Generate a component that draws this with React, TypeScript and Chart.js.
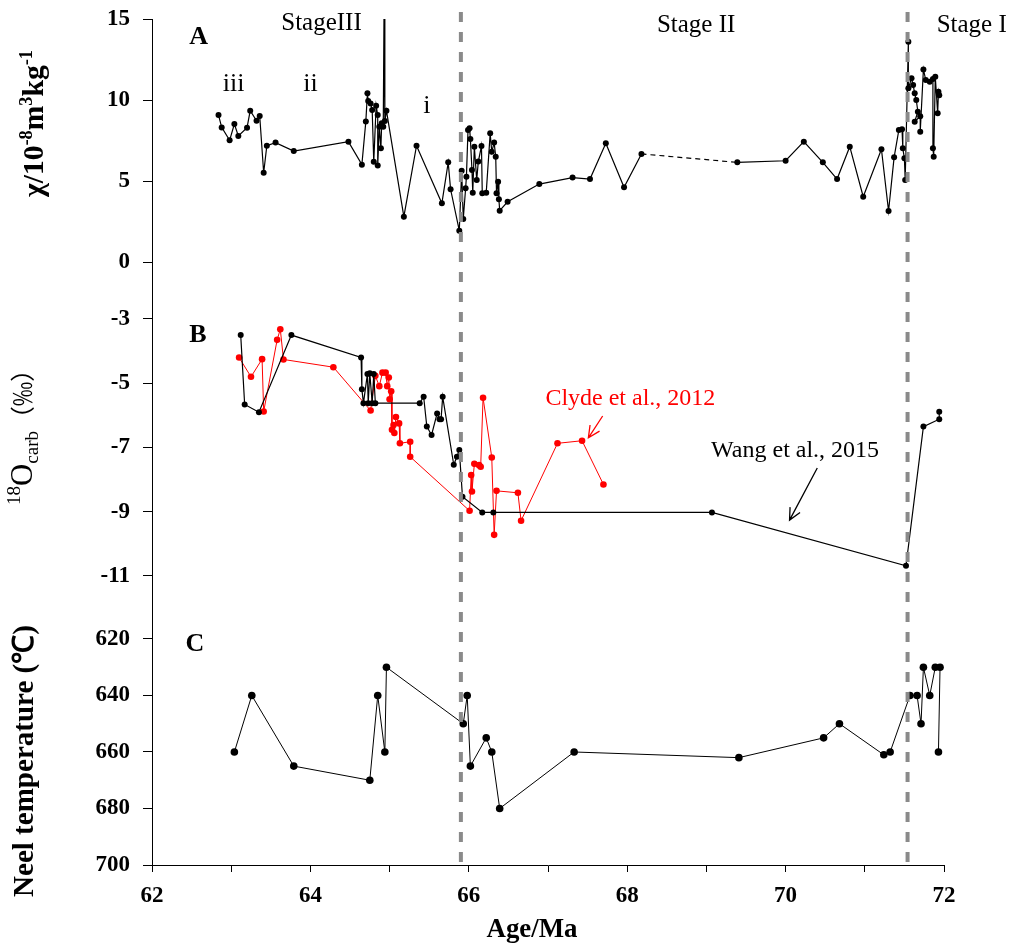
import React, { useEffect, useRef } from 'react';
import { Chart, registerables } from 'chart.js';

Chart.register(...registerables);

// ---------- axis ticks ----------
const xTicks = [62, 63, 64, 65, 66, 67, 68, 69, 70, 71, 72];
const chiTicks = [0, 5, 10, 15];
const d18OTicks = [-3, -5, -7, -9, -11];
const neelTicks = [620, 630, 640, 650, 660, 670, 680, 690, 700];
const stageBoundaries = [65.9, 71.54];

// ---------- Panel A: magnetic susceptibility ----------
const chiAge = [
  62.84, 62.88, 62.98, 63.04, 63.09, 63.2, 63.24, 63.32, 63.36, 63.41, 63.45, 63.56, 63.79,
  64.48, 64.65, 64.7, 64.72, 64.73, 64.76, 64.78, 64.8, 64.83, 64.85, 64.85, 64.87, 64.89,
  64.9, 64.92, 64.93, 64.94, 64.96, 65.18, 65.34, 65.66, 65.74, 65.77, 65.88, 65.91, 65.93,
  65.96, 65.97, 65.99, 66.01, 66.02, 66.04, 66.05, 66.07, 66.1, 66.12, 66.16, 66.17, 66.22,
  66.27, 66.29, 66.32, 66.34, 66.35, 66.37, 66.38, 66.39, 66.49, 66.89, 67.31, 67.53, 67.73,
  67.96, 68.18, 69.39, 70.0, 70.23, 70.47, 70.65, 70.81, 70.98,
  71.21, 71.3, 71.37, 71.43, 71.47, 71.48, 71.5, 71.51, 71.55, 71.55, 71.59, 71.61, 71.63, 71.65,
  71.67, 71.63, 71.7, 71.7, 71.74, 71.77, 71.82, 71.86, 71.86, 71.87, 71.89, 71.92, 71.93, 71.94,
];
const chiValue = [
  9.07, 8.31, 7.51, 8.52, 7.78, 8.29, 9.34, 8.72, 9.01, 5.51, 7.18, 7.37, 6.85,
  7.43, 6.01, 8.68, 10.41, 9.94, 9.79, 9.38, 6.19, 9.65, 9.07, 5.95, 8.35, 7.02,
  8.56, 8.35, 15.8, 8.7, 9.34, 2.8, 7.18, 3.62, 6.15, 4.49, 1.93, 5.64, 2.65,
  4.55, 5.27, 8.15, 8.25, 7.6, 5.68, 4.28, 7.12, 5.06, 6.2, 7.16, 4.24, 4.28,
  7.94, 6.8, 7.37, 6.5, 4.24, 4.96, 3.87, 3.17, 3.72, 4.81, 5.21, 5.12, 7.33,
  4.61, 6.67, 6.15, 6.25, 7.43, 6.15, 5.12, 7.12, 4.03,
  6.96, 3.15, 6.46, 8.15, 8.19, 7.02, 6.4, 5.06, 13.6, 10.72, 11.34, 10.93, 10.41, 10.0,
  9.28, 8.66, 9.0, 8.04, 11.89, 11.23, 11.13, 11.3, 7.02, 6.5, 11.44, 9.18, 10.51, 10.3,
];
// the segment starting at this age is an interpolated (dashed) gap
const chiDashFromAge = 68.18;

// ---------- Panel B: d18O carb ----------
const wangAge = [
  63.12, 63.17, 63.35, 63.76, 64.64, 64.65, 64.67, 64.72, 64.73, 64.75, 64.78, 64.8, 64.82,
  65.38, 65.43, 65.47, 65.53, 65.6, 65.63, 65.65, 65.67, 65.81, 65.85, 65.88, 65.92, 66.17,
  66.31, 69.07, 71.52, 71.74, 71.94, 71.94,
];
const wangValue = [
  -3.5, -5.66, -5.9, -3.5, -4.2, -5.19, -5.62, -4.71, -5.62, -4.69, -5.62, -4.71, -5.62,
  -5.62, -5.42, -6.35, -6.61, -5.94, -6.12, -6.12, -5.42, -7.54, -7.29, -7.08, -8.53, -9.02,
  -9.02, -9.02, -10.68, -6.35, -6.12, -5.89,
];
const clydeAge = [
  63.1, 63.25, 63.39, 63.41, 63.58, 63.62, 63.66, 64.29, 64.76, 64.82, 64.87, 64.91, 64.95,
  64.97, 64.99, 65.0, 65.02, 65.03, 65.05, 65.06, 65.08, 65.12, 65.13, 65.26, 65.26, 66.01,
  66.03, 66.04, 66.07, 66.13, 66.15, 66.18, 66.29, 66.32, 66.35, 66.62, 66.66, 67.12, 67.43, 67.7,
];
const clydeValue = [
  -4.2, -4.8, -4.25, -5.88, -3.65, -3.32, -4.26, -4.5, -5.85, -4.77, -5.09, -4.67, -4.67,
  -5.09, -4.82, -5.5, -5.25, -6.45, -6.3, -6.55, -6.05, -6.25, -6.87, -6.82, -7.29, -8.97,
  -7.86, -8.37, -7.51, -7.55, -7.6, -5.45, -7.31, -9.72, -8.35, -8.41, -9.28, -6.87, -6.79, -8.15,
];

// ---------- Panel C: Neel temperature ----------
const neelAge = [
  63.04, 63.26, 63.79, 64.75, 64.85, 64.94, 64.96, 65.93, 65.98, 66.02, 66.22, 66.29, 66.39,
  67.33, 69.41, 70.48, 70.68, 71.24, 71.32, 71.57, 71.66, 71.71, 71.74, 71.82, 71.89, 71.95, 71.93,
];
const neelValue = [
  660, 640, 665, 670, 640, 660, 630, 650, 640, 665, 655, 660, 680,
  660, 662, 655, 650, 661, 660, 640, 640, 650, 630, 640, 630, 630, 660,
];

const SERIF = "'Liberation Serif', 'Times New Roman', serif";
const CJK = "'Noto Sans CJK SC', sans-serif";

const pts = (xs: number[], ys: number[]) => xs.map((x, i) => ({ x, y: ys[i] }));

type Part = { t: string; s?: number; dy?: number; f?: string };

function drawRich(
  ctx: CanvasRenderingContext2D,
  parts: Part[],
  size: number,
  weight: string,
  cx: number,
  baseY: number,
  rot: number,
  target?: number,
) {
  const fontOf = (p: Part, k: number) =>
    `${weight} ${(p.s ?? 1) * size * k}px ${p.f ?? SERIF}`;
  const widthAt = (k: number) =>
    parts.reduce((sum, p) => {
      ctx.font = fontOf(p, k);
      return sum + ctx.measureText(p.t).width;
    }, 0);
  let k = 1;
  if (target) k = target / widthAt(1);
  const total = widthAt(k);
  ctx.save();
  ctx.translate(cx, baseY);
  ctx.rotate(rot);
  ctx.textAlign = 'left';
  ctx.textBaseline = 'alphabetic';
  let x = -total / 2;
  for (const p of parts) {
    ctx.font = fontOf(p, k);
    ctx.fillText(p.t, x, (p.dy ?? 0) * size * k);
    x += ctx.measureText(p.t).width;
  }
  ctx.restore();
}

function arrow(ctx: CanvasRenderingContext2D, x0: number, y0: number, x1: number, y1: number, color: string) {
  const a = Math.atan2(y1 - y0, x1 - x0);
  const L = 13;
  const spread = 0.45;
  ctx.save();
  ctx.strokeStyle = color;
  ctx.lineWidth = 1.3;
  ctx.beginPath();
  ctx.moveTo(x0, y0);
  ctx.lineTo(x1, y1);
  ctx.moveTo(x1 - L * Math.cos(a - spread), y1 - L * Math.sin(a - spread));
  ctx.lineTo(x1, y1);
  ctx.lineTo(x1 - L * Math.cos(a + spread), y1 - L * Math.sin(a + spread));
  ctx.stroke();
  ctx.restore();
}

const decorPlugin = {
  id: 'decor',
  afterDatasetsDraw(chart: any) {
    const ctx: CanvasRenderingContext2D = chart.ctx;
    const xs = chart.scales.x;
    const area = chart.chartArea;
    ctx.save();
    ctx.strokeStyle = '#8a8a8a';
    ctx.lineWidth = 4;
    ctx.setLineDash([10, 10]);
    for (const b of stageBoundaries) {
      const px = xs.getPixelForValue(b);
      ctx.beginPath();
      ctx.moveTo(px, area.top - 7);
      ctx.lineTo(px, area.bottom - 3);
      ctx.stroke();
    }
    ctx.restore();
  },
  afterDraw(chart: any) {
    const ctx: CanvasRenderingContext2D = chart.ctx;
    const s = chart.scales;
    const P = (x: number, y: number, ax: string) => [s.x.getPixelForValue(x), s[ax].getPixelForValue(y)];
    const label = (t: string, x: number, y: number, ax: string, font: string, color = '#000') => {
      const [px, py] = P(x, y, ax);
      ctx.save();
      ctx.font = font;
      ctx.fillStyle = color;
      ctx.textAlign = 'center';
      ctx.textBaseline = 'middle';
      ctx.fillText(t, px, py);
      ctx.restore();
    };
    const bold26 = `bold 26px ${SERIF}`;
    const reg25 = `25px ${SERIF}`;
    label('A', 62.59, 13.9, 'yA', bold26);
    label('B', 62.58, -3.5, 'yB', bold26);
    label('C', 62.54, 621.8, 'yC', bold26);
    label('StageIII', 64.14, 14.7, 'yA', reg25);
    label('Stage II', 68.87, 14.6, 'yA', reg25);
    label('Stage I', 72.35, 14.6, 'yA', reg25);
    label('iii', 63.03, 11.0, 'yA', `26px ${SERIF}`);
    label('ii', 64.0, 11.0, 'yA', `26px ${SERIF}`);
    label('i', 65.47, 9.63, 'yA', `26px ${SERIF}`);
    label('Clyde et al., 2012', 68.04, -5.49, 'yB', `24px ${SERIF}`, '#ff0000');
    label('Wang et al., 2015', 70.12, -7.11, 'yB', `24px ${SERIF}`);
    {
      const [a, b] = P(67.69, -6.02, 'yB');
      const [c, d] = P(67.51, -6.7, 'yB');
      arrow(ctx, a, b, c, d, '#ff0000');
    }
    {
      const [a, b] = P(70.4, -7.64, 'yB');
      const [c, d] = P(70.05, -9.26, 'yB');
      arrow(ctx, a, b, c, d, '#000');
    }

    ctx.save();
    ctx.fillStyle = '#000';
    const up = -Math.PI / 2;
    // Panel A title
    drawRich(ctx, [
      { t: 'χ/10' }, { t: '-8', s: 0.62, dy: -0.38 }, { t: 'm' }, { t: '3', s: 0.62, dy: -0.38 },
      { t: 'kg' }, { t: '-1', s: 0.62, dy: -0.38 },
    ], 26, 'bold', 43, 123.5, up, 147);
    // Panel B title
    drawRich(ctx, [
      { t: '18', s: 0.62, dy: -0.4 }, { t: 'O' }, { t: 'carb', s: 0.62, dy: 0.2 },
      { t: '（‰）', s: 0.8, f: CJK },
    ], 26, 'normal', 32, 431, up, 148);
    // Panel C title
    drawRich(ctx, [{ t: 'Neel temperature (℃)' }], 26, 'bold', 33, 761, up, 272);
    // x title
    drawRich(ctx, [{ t: 'Age/Ma' }], 27, 'bold', 532, 937, 0, 91);
    ctx.restore();
  },
};

const tickFont = { family: SERIF, size: 23, weight: 'bold' as const };

function yAxis(ticks: number[], min: number, max: number, weightOrder: number, stackWeight: number, extra: any = {}) {
  return {
    type: 'linear',
    position: 'left',
    stack: 'panels',
    stackWeight,
    weight: weightOrder,
    min,
    max,
    afterBuildTicks: (sc: any) => {
      sc.ticks = ticks.map((v) => ({ value: v }));
    },
    afterFit: (sc: any) => {
      sc.width = 152;
      sc.paddingTop = 0;
      sc.paddingBottom = 0;
    },
    ticks: {
      font: tickFont,
      color: '#000',
      padding: 13,
      callback: (v: any) => String(v),
    },
    grid: { drawOnChartArea: false, drawTicks: true, tickLength: 9, color: '#000', lineWidth: 1 },
    border: { display: true, color: '#000', width: 1 },
    ...extra,
  };
}

export default function App() {
  const ref = useRef<HTMLCanvasElement>(null);
  useEffect(() => {
    const dashIdx = chiAge.indexOf(chiDashFromAge);
    const chart = new Chart(ref.current as HTMLCanvasElement, {
      type: 'scatter',
      data: {
        datasets: [
          {
            label: 'Wang et al., 2015',
            data: pts(wangAge, wangValue),
            yAxisID: 'yB',
            showLine: true,
            borderColor: '#000',
            borderWidth: 1.2,
            pointRadius: 3,
            pointBackgroundColor: '#000',
            pointBorderWidth: 0,
          },
          {
            label: 'Clyde et al., 2012',
            data: pts(clydeAge, clydeValue),
            yAxisID: 'yB',
            showLine: true,
            borderColor: '#ff0000',
            borderWidth: 1,
            pointRadius: 3.3,
            pointBackgroundColor: '#ff0000',
            pointBorderWidth: 0,
          },
          {
            label: 'χ',
            data: pts(chiAge, chiValue),
            yAxisID: 'yA',
            showLine: true,
            borderColor: '#000',
            borderWidth: 1.2,
            pointRadius: 3,
            pointBackgroundColor: '#000',
            pointBorderWidth: 0,
            segment: {
              borderDash: (c: any) => (c.p0DataIndex === dashIdx ? [5, 4] : undefined),
            },
          },
          {
            label: 'Neel temperature',
            data: pts(neelAge, neelValue),
            yAxisID: 'yC',
            showLine: true,
            borderColor: '#000',
            borderWidth: 1,
            pointRadius: 3.8,
            pointBackgroundColor: '#000',
            pointBorderWidth: 0,
          },
        ],
      } as any,
      options: {
        responsive: false,
        animation: false,
        layout: { padding: { top: 19, right: 72, bottom: 0, left: 0 } },
        plugins: { legend: { display: false }, tooltip: { enabled: false } },
        scales: {
          x: {
            type: 'linear',
            position: 'bottom',
            min: 62,
            max: 72,
            afterBuildTicks: (sc: any) => {
              sc.ticks = xTicks.map((v) => ({ value: v }));
            },
            afterFit: (sc: any) => {
              sc.height = 78;
              sc.paddingLeft = 0;
              sc.paddingRight = 0;
            },
            ticks: {
              font: tickFont,
              color: '#000',
              padding: 10,
              maxRotation: 0,
              autoSkip: false,
              callback: (v: any) => (Number(v) % 2 === 0 ? String(v) : ''),
            },
            grid: { drawOnChartArea: false, drawTicks: true, tickLength: 7, color: '#000' },
            border: { display: true, color: '#000', width: 1 },
          },
          yA: yAxis(chiTicks, -1.759, 15, 3, 271.5),
          yB: yAxis(d18OTicks, -11.981, -2.113, 2, 317),
          yC: yAxis(neelTicks, 608.85, 700, 1, 257.5, {
            reverse: true,
            ticks: {
              font: tickFont,
              color: '#000',
              padding: 13,
              callback: (v: any) => (Number(v) % 20 === 0 ? String(v) : ''),
            },
          }),
        } as any,
      },
      plugins: [decorPlugin as any],
    });
    return () => chart.destroy();
  }, []);
  return (
    <canvas
      ref={ref}
      width={1016}
      height={943}
      style={{ position: 'fixed', left: 0, top: 0, width: 1016, height: 943, display: 'block' }}
    />
  );
}
